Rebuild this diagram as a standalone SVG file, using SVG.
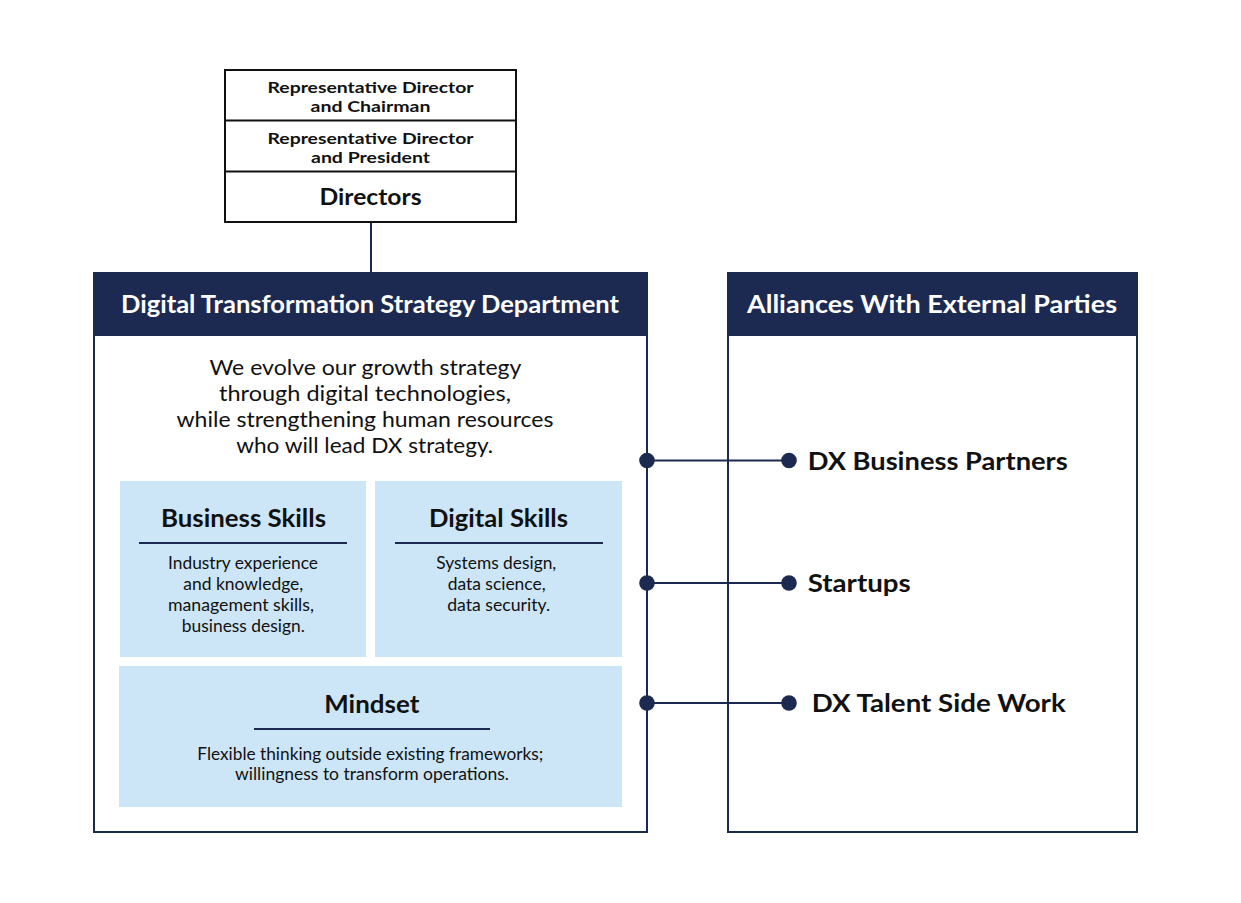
<svg xmlns="http://www.w3.org/2000/svg" width="1241" height="903" viewBox="0 0 1241 903">
<style>
text{font-family:Lato,"Open Sans","Noto Sans","Liberation Sans",sans-serif;fill:#111;text-anchor:middle}
.b{font-weight:bold}
.hdr{fill:#fff;font-weight:bold;font-size:24px}
.navy{fill:#1c2a52}
.frame{fill:#fff;stroke:#1c2a52;stroke-width:2}
.blk{fill:#fff;stroke:#111;stroke-width:2}
.sk{fill:#cce6f7}
.ul{stroke:#1c2a52;stroke-width:2}
.ln{stroke:#1c2a52;stroke-width:2;fill:none}
.dot{fill:#1c2a52}
.rep{font-weight:bold;font-size:15.8px}
.desc{font-size:21.6px}
.st{font-weight:bold;font-size:24px}
.body{font-size:16.8px}
.alt{text-anchor:start;font-weight:bold;font-size:25.5px}
</style>
<rect width="1241" height="903" fill="#fff"/>
<g id="connectors">
<line class="ln" x1="371" y1="222" x2="371" y2="272"/>
</g>
<g id="board">
<rect class="blk" x="225" y="70" width="291" height="152"/>
<line class="blk" x1="225" y1="120.5" x2="516" y2="120.5"/>
<line class="blk" x1="225" y1="171.5" x2="516" y2="171.5"/>
<text class="rep" x="370.5" y="92.5" textLength="206" lengthAdjust="spacingAndGlyphs">Representative Director</text>
<text class="rep" x="370.5" y="111.5" textLength="120" lengthAdjust="spacingAndGlyphs">and Chairman</text>
<text class="rep" x="370.5" y="143.5" textLength="206" lengthAdjust="spacingAndGlyphs">Representative Director</text>
<text class="rep" x="370.5" y="162.5" textLength="119" lengthAdjust="spacingAndGlyphs">and President</text>
<text class="b" x="370.5" y="205" font-size="23" textLength="102" lengthAdjust="spacingAndGlyphs">Directors</text>
</g>
<g id="dx-dept">
<rect class="frame" x="94" y="273" width="553" height="559"/>
<rect class="navy" x="93" y="272" width="555" height="64"/>
<text class="hdr" x="370" y="313" textLength="498" lengthAdjust="spacingAndGlyphs">Digital Transformation Strategy Department</text>
<text class="desc" x="365.5" y="375" textLength="312" lengthAdjust="spacingAndGlyphs">We evolve our growth strategy</text>
<text class="desc" x="365" y="401" textLength="292" lengthAdjust="spacingAndGlyphs">through digital technologies,</text>
<text class="desc" x="365" y="427" textLength="377" lengthAdjust="spacingAndGlyphs">while strengthening human resources</text>
<text class="desc" x="364.7" y="453" textLength="257" lengthAdjust="spacingAndGlyphs">who will lead DX strategy.</text>
</g>
<g id="business-skills">
<rect class="sk" x="120" y="481" width="246" height="176"/>
<text class="st" x="243.5" y="527" textLength="165" lengthAdjust="spacingAndGlyphs">Business Skills</text>
<line class="ul" x1="139" y1="543" x2="347" y2="543"/>
<text class="body" x="243" y="569" textLength="150" lengthAdjust="spacingAndGlyphs">Industry experience</text>
<text class="body" x="243.3" y="590" textLength="120" lengthAdjust="spacingAndGlyphs">and knowledge,</text>
<text class="body" x="241" y="611" textLength="146" lengthAdjust="spacingAndGlyphs">management skills,</text>
<text class="body" x="243.3" y="632" textLength="123" lengthAdjust="spacingAndGlyphs">business design.</text>
</g>
<g id="digital-skills">
<rect class="sk" x="375" y="481" width="247" height="176"/>
<text class="st" x="498.5" y="527" textLength="139" lengthAdjust="spacingAndGlyphs">Digital Skills</text>
<line class="ul" x1="395" y1="543" x2="603" y2="543"/>
<text class="body" x="496.3" y="569" textLength="120" lengthAdjust="spacingAndGlyphs">Systems design,</text>
<text class="body" x="496.7" y="590" textLength="98" lengthAdjust="spacingAndGlyphs">data science,</text>
<text class="body" x="498.7" y="611" textLength="103" lengthAdjust="spacingAndGlyphs">data security.</text>
</g>
<g id="mindset">
<rect class="sk" x="119" y="666" width="503" height="141"/>
<text class="st" x="371.8" y="713" textLength="95" lengthAdjust="spacingAndGlyphs">Mindset</text>
<line class="ul" x1="254" y1="729" x2="490" y2="729"/>
<text class="body" x="370.3" y="760" textLength="346" lengthAdjust="spacingAndGlyphs">Flexible thinking outside existing frameworks;</text>
<text class="body" x="372" y="780" textLength="274" lengthAdjust="spacingAndGlyphs">willingness to transform operations.</text>
</g>
<g id="alliances">
<rect class="frame" x="728" y="273" width="409" height="559"/>
<rect class="navy" x="727" y="272" width="411" height="64"/>
<text class="hdr" x="932" y="313" textLength="370" lengthAdjust="spacingAndGlyphs">Alliances With External Parties</text>
</g>
<g id="links">
<line class="ln" x1="647" y1="460.5" x2="789" y2="460.5"/>
<line class="ln" x1="647" y1="583" x2="789" y2="583"/>
<line class="ln" x1="647" y1="703" x2="789" y2="703"/>
<circle class="dot" cx="647" cy="460.5" r="7.8"/>
<circle class="dot" cx="789" cy="460.5" r="7.8"/>
<circle class="dot" cx="647" cy="583" r="7.8"/>
<circle class="dot" cx="789" cy="583" r="7.8"/>
<circle class="dot" cx="647" cy="703" r="7.8"/>
<circle class="dot" cx="789" cy="703" r="7.8"/>
</g>
<g id="partner-1"><text class="alt" x="807.7" y="470" textLength="260" lengthAdjust="spacingAndGlyphs">DX Business Partners</text></g>
<g id="partner-2"><text class="alt" x="807.7" y="591.5" textLength="103" lengthAdjust="spacingAndGlyphs">Startups</text></g>
<g id="partner-3"><text class="alt" x="811.7" y="711.5" textLength="254" lengthAdjust="spacingAndGlyphs">DX Talent Side Work</text></g>
</svg>
